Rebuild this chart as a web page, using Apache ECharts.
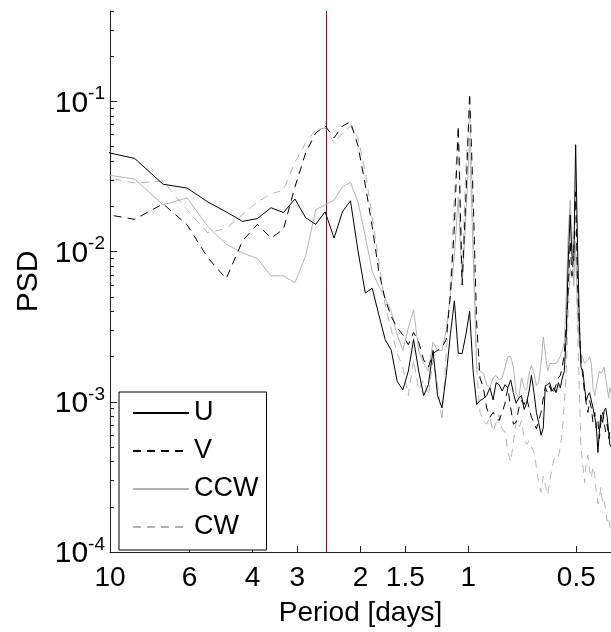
<!DOCTYPE html>
<html><head><meta charset="utf-8">
<script src="https://cdn.jsdelivr.net/npm/echarts@6/dist/echarts.min.js"></script>
<style>html,body{margin:0;padding:0;background:#fff}#c{width:611px;height:632px}</style>
</head><body><div id="c"></div>
<script>
// Period [days] of each spectral estimate
const periods = [10.667,8.533,7.111,6.095,5.333,4.741,4.267,3.879,3.556,3.282,3.048,2.844,2.667,2.510,2.370,2.246,2.133,2.032,1.939,1.855,1.778,1.707,1.641,1.580,1.524,1.471,1.422,1.376,1.333,1.293,1.255,1.219,1.185,1.153,1.123,1.094,1.067,1.041,1.016,0.992,0.970,0.948,0.928,0.908,0.889,0.871,0.853,0.837,0.821,0.805,0.790,0.776,0.762,0.749,0.736,0.723,0.711,0.699,0.688,0.677,0.667,0.656,0.646,0.637,0.627,0.618,0.610,0.601,0.593,0.584,0.577,0.569,0.561,0.554,0.547,0.540,0.533,0.527,0.520,0.514,0.508,0.502,0.496,0.490,0.485,0.479,0.474,0.469,0.464,0.459,0.454,0.449,0.444,0.440,0.435,0.431,0.427,0.422,0.418,0.414,0.410,0.406,0.403,0.399];
const U = [0.047,0.0417,0.0281,0.0265,0.0214,0.0184,0.0159,0.0166,0.0196,0.0182,0.0224,0.0168,0.0152,0.0184,0.0123,0.0184,0.0218,0.0101,0.0053,0.0057,0.0038,0.0026,0.0022,0.00137,0.0012,0.0016,0.0026,0.0016,0.0011,0.0013,0.0022,0.0011,0.00091,0.0015,0.0028,0.0047,0.0021,0.0021,0.0028,0.0040,0.0016,0.00096,
 0.00102,0.00105,0.0011,0.00124,0.00103,0.00134,0.0013,0.00118,0.0013,0.00124,0.0014,0.00115,0.00098,0.00106,0.0011,0.00089,0.00098,0.00118,0.0015,0.00115,0.00085,0.00073,0.0006,0.00067,0.00128,0.0013,0.00134,0.00118,0.00124,0.00115,0.00134,0.00124,0.00144,0.0016,0.0028,0.0081,0.0176,0.0094,0.0087,0.0515,0.011,0.0033,0.0017,0.0016,0.00124,0.00102,0.0011,0.00115,0.00115,0.00091,0.00079,0.00071,0.00046,0.00063,0.00082,0.00073,0.00087,0.00091,0.00079,0.00063,0.00052,0.0005];
const V = [0.018,0.0164,0.0208,0.0151,0.0091,0.0066,0.0118,0.0152,0.0123,0.0141,0.0269,0.0456,0.0617,0.0686,0.0573,0.0686,0.073,0.0507,0.0277,0.0147,0.0074,0.0048,0.0037,0.0031,0.0028,0.0024,0.0029,0.0025,0.0019,0.0017,0.0021,0.0022,0.0023,0.0026,0.0051,0.0147,0.0686,0.006,0.0231,0.113,0.0231,0.0033,
 0.00144,0.00124,0.00091,0.00079,0.00085,0.00079,0.00075,0.00085,0.00098,0.00124,0.00091,0.00071,0.00073,0.00091,0.00102,0.00096,0.00106,0.00091,0.00079,0.00073,0.00066,0.00075,0.00085,0.00106,0.00124,0.00115,0.00128,0.00112,0.00118,0.0013,0.00144,0.0015,0.0017,0.0021,0.0033,0.0051,0.0117,0.0069,0.0101,0.025,0.0064,0.003,0.0019,0.00144,0.00115,0.00098,0.00085,0.00102,0.00091,0.00073,0.00085,0.00067,0.00075,0.00057,0.00073,0.00085,0.00073,0.00063,0.00071,0.00057,0.00063,0.00057];
const CCW = [0.033,0.0304,0.0205,0.0228,0.0147,0.0112,0.0098,0.0090,0.0069,0.0069,0.0062,0.0094,0.019,0.0205,0.022,0.027,0.029,0.0214,0.0126,0.0074,0.0059,0.0049,0.004,0.0028,0.0022,0.0031,0.0041,0.0022,0.0018,0.0016,0.0025,0.0022,0.0022,0.0030,0.0051,0.0094,0.0231,0.006,0.0171,0.0572,0.0094,0.0017,
 0.0016,0.00155,0.0013,0.00124,0.00144,0.0015,0.0014,0.00144,0.0017,0.002,0.002,0.0017,0.00115,0.00106,0.00144,0.00124,0.0012,0.00155,0.00175,0.00155,0.00128,0.00134,0.0018,0.0027,0.0021,0.0016,0.0018,0.0018,0.0018,0.0018,0.0019,0.002,0.0022,0.0025,0.0051,0.0126,0.022,0.0126,0.0059,0.011,0.0038,0.0024,0.0021,0.0021,0.0018,0.0018,0.0019,0.002,0.0018,0.00124,0.0011,0.00124,0.00144,0.0016,0.00155,0.0016,0.0017,0.00144,0.00124,0.00106,0.00124,0.00115];
const CW = [0.0318,0.0286,0.0295,0.019,0.0133,0.0143,0.0177,0.0214,0.0242,0.0257,0.0393,0.053,0.0646,0.0665,0.053,0.0617,0.0686,0.0573,0.0337,0.0171,0.0086,0.0044,0.003,0.0021,0.0017,0.0011,0.0019,0.0012,0.0014,0.0011,0.0019,0.0013,0.00075,0.0021,0.006,0.0231,0.0686,0.0069,0.0364,0.09,0.0147,0.0016,
 0.00085,0.00075,0.00071,0.00079,0.00063,0.00073,0.00082,0.00066,0.00063,0.00046,0.0004,0.00054,0.00073,0.00067,0.00075,0.00057,0.00052,0.00055,0.0005,0.00046,0.00037,0.00029,0.00025,0.00032,0.00028,0.00024,0.00029,0.00037,0.00041,0.00044,0.00043,0.0005,0.00063,0.00098,0.0016,0.0038,0.0081,0.0064,0.0109,0.0136,0.0033,0.00115,0.0005,0.00037,0.00029,0.0004,0.00044,0.00035,0.00031,0.00037,0.00033,0.00025,0.00021,0.00023,0.00027,0.00021,0.00022,0.00019,0.00016,0.00017,0.00015,0.00013];
const seriesNames = ['U','V','CCW','CW'];
const xTicks = [10,6,4,3,2,1.5,1,0.5];
const yTicks = [1e-4,1e-3,1e-2,1e-1];
const yMinorTicks = [2e-4,3e-4,4e-4,5e-4,6e-4,7e-4,8e-4,9e-4,2e-3,3e-3,4e-3,5e-3,6e-3,7e-3,8e-3,9e-3,2e-2,3e-2,4e-2,5e-2,6e-2,7e-2,8e-2,9e-2,0.2,0.3,0.4];
const markPeriod = 2.49;

const FONT = 'Liberation Sans, Arial, Helvetica, sans-serif';
const chart = echarts.init(document.getElementById('c'), null, {renderer:'canvas'});
const pair = arr => periods.map((p,i)=>[p,arr[i]]);
const styles = [
  {color:'#000000', type:'solid'},
  {color:'#000000', type:[8,6]},
  {color:'#b3b3b3', type:'solid'},
  {color:'#b3b3b3', type:[8,6]}
];
const dataSets = [U,V,CCW,CW];
const series = seriesNames.map((n,i)=>({
  name:n, type:'line', data:pair(dataSets[i]), symbol:'none', showSymbol:false,
  xAxisIndex:0, yAxisIndex:0, clip:true,
  lineStyle:{color:styles[i].color, type:styles[i].type, width:1},
  itemStyle:{color:styles[i].color},
  z: 10 - i
}));
series[0].markLine = {
  symbol:'none', silent:true, animation:false,
  label:{show:false},
  lineStyle:{color:'#b00000', type:'solid', width:1},
  data:[{xAxis: markPeriod}]
};
chart.setOption({
  animation:false,
  backgroundColor:'#ffffff',
  grid:{left:110, top:11, right:-3, bottom:72, containLabel:false},
  legend:{
    show:true,
    orient:'vertical', left:119, top:392,
    data:seriesNames,
    backgroundColor:'#ffffff', borderColor:'#000000', borderWidth:1,
    padding:[7,8,9,13],
    itemWidth:56, itemHeight:14, itemGap:10,
    itemStyle:{opacity:0, color:'transparent', borderColor:'transparent', borderWidth:0},
    textStyle:{fontFamily:FONT, fontSize:27, color:'#000', lineHeight:28}
  },
  xAxis:{
    type:'log', inverse:true, min:0.4, max:10,
    name:'Period [days]', nameLocation:'middle', nameGap:47,
    nameTextStyle:{fontFamily:FONT, fontSize:28, color:'#000'},
    axisLine:{show:true, onZero:false, lineStyle:{color:'#222', width:1}},
    axisTick:{show:true, inside:true, length:6, customValues:xTicks, lineStyle:{color:'#222'}},
    axisLabel:{show:true, customValues:xTicks, fontFamily:FONT, fontSize:28, color:'#000', margin:12,
      formatter: v => String(+v.toFixed(2))},
    minorTick:{show:false}, splitLine:{show:false}
  },
  yAxis:[{
    type:'log', min:1e-4, max:0.4,
    name:'PSD', nameLocation:'middle', nameGap:66, nameRotate:90,
    nameTextStyle:{fontFamily:FONT, fontSize:30, color:'#000'},
    axisLine:{show:true, onZero:false, lineStyle:{color:'#222', width:1}},
    axisTick:{show:true, inside:true, length:7, customValues:yTicks, lineStyle:{color:'#222'}},
    axisLabel:{show:true, customValues:yTicks, margin:5,
      formatter: v => '{b|10}{s|' + Math.round(Math.log10(v)) + '}',
      rich:{
        b:{fontFamily:FONT, fontSize:30, color:'#000', lineHeight:34, verticalAlign:'bottom'},
        s:{fontFamily:FONT, fontSize:19, color:'#000', lineHeight:19, verticalAlign:'top'}
      }},
    splitLine:{show:false}
  },{
    type:'log', min:1e-4, max:0.4, position:'left',
    axisLine:{show:false},
    axisTick:{show:true, inside:true, length:4, customValues:yMinorTicks, lineStyle:{color:'#222'}},
    axisLabel:{show:false},
    splitLine:{show:false}
  }],
  series: series
});
</script></body></html>
